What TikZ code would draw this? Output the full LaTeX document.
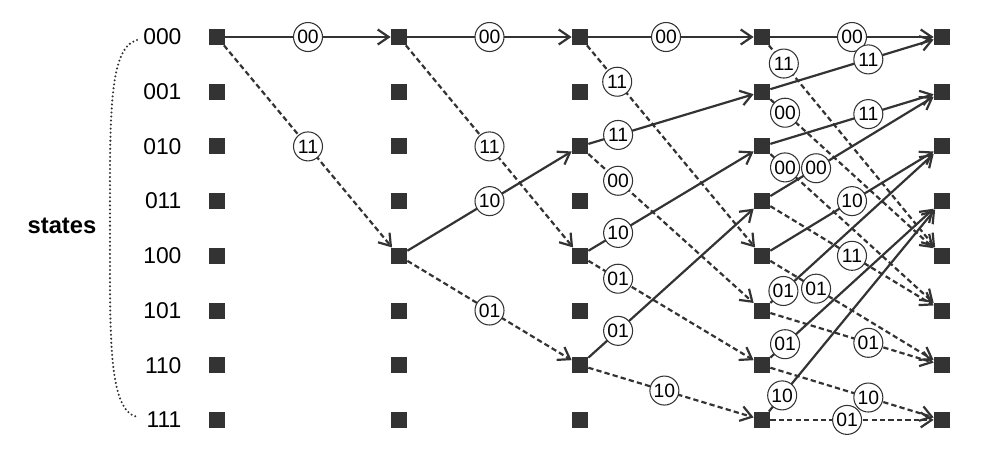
\documentclass[tikz,border=0pt]{standalone}
\usepackage{fontspec}
\setmainfont{Liberation Sans}
\usetikzlibrary{positioning, arrows.meta}
\definecolor{trel}{HTML}{333333}

\begin{document}
\begin{tikzpicture}[x=0.02cm, y=-0.02cm,
    st/.style={fill=trel, minimum size=0.32cm, inner sep=0pt},
    lab/.style={circle, solid, draw=trel, fill=white, line width=0.6pt, minimum size=0.58cm, inner sep=0pt,
      font=\fontsize{11}{12}\selectfont},
    br/.style={draw=trel, line width=1.25pt, -{Straight Barb[length=2.2mm,width=3mm]}},
    s0/.style={br},
    s1/.style={br, dash pattern=on 3pt off 1.8pt}]
  \useasboundingbox (0,0) rectangle (981,451);
  % trellis nodes
  \foreach \c/\x in {0/217,1/399,2/580,3/762,4/942}
    \foreach \r in {0,...,7}
      \node[st] (n\c\r) at (\x,{37+54.7*\r}) {};
  % state names
  \foreach \r/\name in {0/000,1/001,2/010,3/011,4/100,5/101,6/110,7/111}
    \node[left=0.42cm of n0\r, font=\fontsize{13}{14}\selectfont] (l\r) {\name};
  \node[font=\bfseries\fontsize{13.5}{16}\selectfont] (states) at (62,226) {states};
  \coordinate (btop) at (137,40);
  \coordinate (bbot) at (137,417);
  \draw[trel, line width=1.3pt, line cap=round, dash pattern=on 0pt off 2.3pt]
    (btop) .. controls (108,48) and (110,120) .. (110,228)
    .. controls (110,336) and (108,410) .. (bbot);
  % branches: solid = input 0, dashed = input 1
  \foreach \u/\v/\t/\lab/\p in {00/10/s0/00/.5, 00/14/s1/11/.5,
      10/20/s0/00/.5, 10/24/s1/11/.5, 14/22/s0/10/.5, 14/26/s1/01/.5,
      20/30/s0/00/.47, 20/34/s1/11/.18, 22/31/s0/11/.18, 22/35/s1/00/.18,
      24/32/s0/10/.18, 24/36/s1/01/.18, 26/33/s0/01/.18, 26/37/s1/10/.46,
      30/40/s0/00/.5, 30/44/s1/11/.09, 31/40/s0/11/.6, 31/44/s1/00/.09,
      32/41/s0/11/.6, 32/45/s1/00/.09, 33/41/s0/00/.28, 33/45/s1/11/.5,
      34/42/s0/10/.5, 34/46/s1/01/.28, 35/42/s0/01/.08, 35/46/s1/01/.6,
      36/43/s0/01/.09, 36/47/s1/10/.6, 37/43/s0/10/.08, 37/47/s1/01/.47}
    \draw[\t] (n\u) -- node[lab, pos=\p] {\lab} (n\v);
\end{tikzpicture}
\end{document}
